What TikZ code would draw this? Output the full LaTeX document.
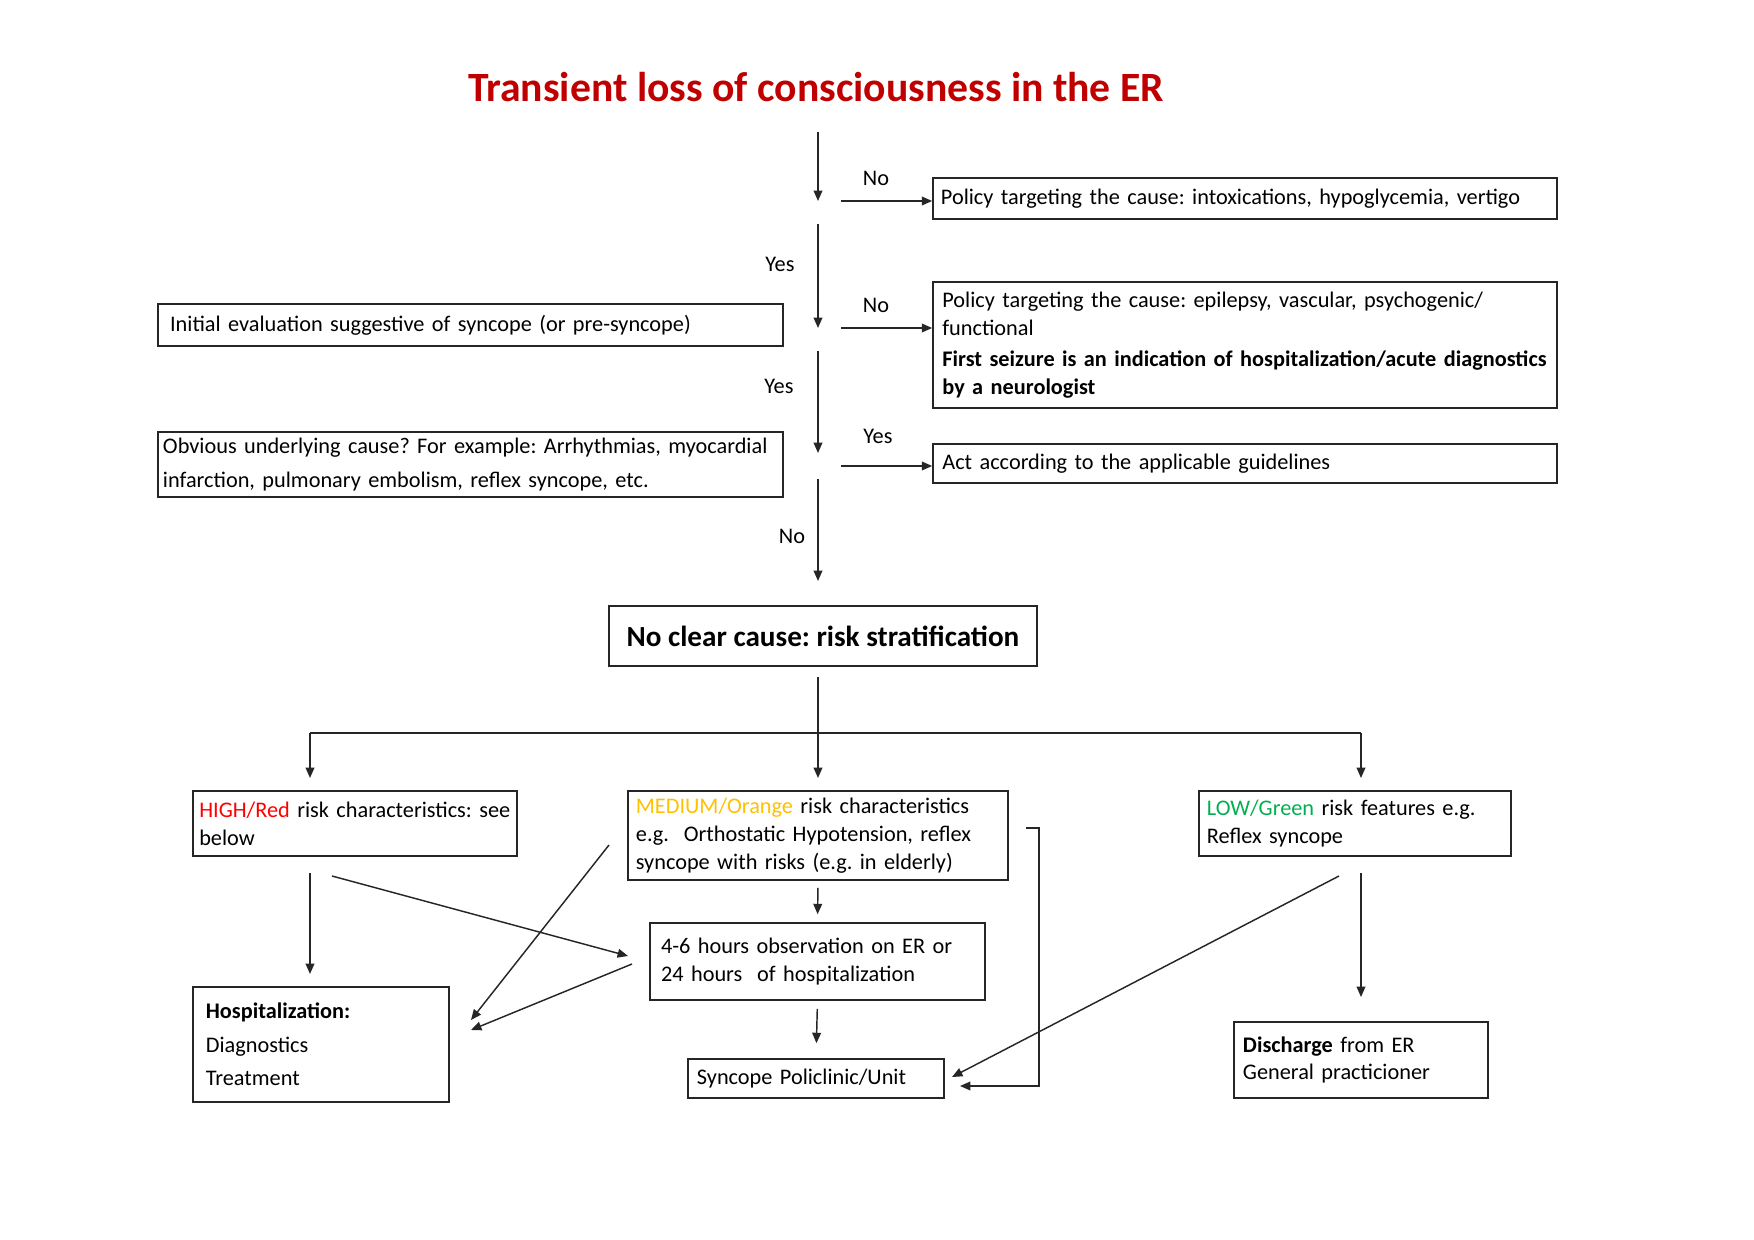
\documentclass[tikz,border=0pt]{standalone}
\usepackage{fontspec}
\setmainfont{Carlito}
\usetikzlibrary{arrows.meta}
\frenchspacing

\definecolor{titlered}{HTML}{C00000}
\definecolor{highred}{HTML}{FF0000}
\definecolor{medorange}{HTML}{FFC000}
\definecolor{lowgreen}{HTML}{00B050}

\tikzset{
  box/.style={draw=black!85, line width=0.8pt, align=left, inner ysep=0pt, font=\fontsize{10.7}{13.4}\selectfont},
  lbl/.style={font=\fontsize{10.7}{13.4}\selectfont},
  ln/.style={draw=black!85, line width=0.7pt},
  arr/.style={ln, -{Triangle[length=5pt,width=4.2pt]}}
}

\begin{document}
\begin{tikzpicture}[x=0.48pt, y=-0.48pt]
\useasboundingbox (0,0) rectangle (1754,1240);

% title
\node[font=\fontsize{20}{24}\selectfont\bfseries, text=titlered] (ttl) at (816,87) {Transient loss of consciousness in the ER};

% left column
\node[box, text width=288.4pt, inner xsep=5.8pt, minimum height=20.2pt] (init) at (470.5,325) {Initial evaluation suggestive of syncope (or pre-syncope)};
\node[box, text width=295.2pt, inner xsep=2.4pt, minimum height=31.2pt] (obv) at (470.5,464.5) {\mbox{Obvious underlying cause? For example: Arrhythmias, myocardial}\\[2.9pt] infarction, pulmonary embolism, reflex syncope, etc.};

% right column
\node[box, text width=291.9pt, inner xsep=3.8pt, minimum height=19.7pt] (intox) at (1245,198.5) {Policy targeting the cause: intoxications, hypoglycemia, vertigo};
\node[box, text width=290.5pt, inner xsep=4.5pt, minimum height=60.5pt] (epil) at (1245,345) {Policy targeting the cause: epilepsy, vascular, psychogenic/\\ functional\\[1.5pt] \mbox{\textbf{First seizure is an indication of hospitalization/acute diagnostics}}\\ \textbf{by a neurologist}};
\node[box, text width=290.5pt, inner xsep=4.5pt, minimum height=18.7pt] (guide) at (1245,463.5) {Act according to the applicable guidelines};

% risk stratification
\node[box, align=center, minimum width=205.4pt, minimum height=28.8pt, font=\fontsize{14}{17}\selectfont\bfseries] (risk) at (823,636) {No clear cause: risk stratification};
\node[box, text width=149.5pt, inner xsep=3pt, minimum height=31.2pt] (high) at (355,823.5) {\mbox{\textcolor{highred}{HIGH/Red} risk characteristics: see}\\ below};
\node[box, text width=174.8pt, inner xsep=3.8pt, minimum height=42.7pt] (med) at (818,835.5) {\textcolor{medorange}{MEDIUM/Orange} risk characteristics\\ e.g.\ \ Orthostatic Hypotension, reflex\\ syncope with risks (e.g. in elderly)};
\node[box, text width=142.2pt, inner xsep=3.8pt, minimum height=31.2pt] (low) at (1355,823.5) {\textcolor{lowgreen}{LOW/Green} risk features e.g.\\ Reflex syncope};
\node[box, text width=150.2pt, inner xsep=5.3pt, minimum height=37pt] (obs) at (817.5,961.5) {4-6 hours observation on ER or\\ 24 hours\ \ of hospitalization};
\node[box, text width=110.5pt, inner xsep=6.2pt, minimum height=55.2pt] (hosp) at (321,1044.5) {\textbf{Hospitalization:}\\[2.6pt] Diagnostics\\[2.6pt] Treatment};
\node[box, text width=114.3pt, inner xsep=4.3pt, minimum height=18.7pt] (sync) at (816,1078.5) {Syncope Policlinic/Unit};
\node[box, text width=113.3pt, inner xsep=4.3pt, minimum height=36.5pt] (dis) at (1361,1060) {\textbf{Discharge} from ER\\ General practicioner};

% yes/no labels
\node[lbl] (no1) at (876,178) {No};
\node[lbl] (yes1) at (780,264) {Yes};
\node[lbl] (no2) at (876,305) {No};
\node[lbl] (yes2) at (779,386) {Yes};
\node[lbl] (yes3) at (878,436) {Yes};
\node[lbl] (no3) at (792,536) {No};

% main chain
\coordinate (s0) at (818,132); \coordinate (e0) at (818,201);
\coordinate (s1) at (818,224); \coordinate (e1) at (818,328);
\coordinate (s2) at (818,351); \coordinate (e2) at (818,453);
\coordinate (s3) at (818,479); \coordinate (e3) at (818,581);
\draw[arr] (s0) -- (e0);
\draw[arr] (s1) -- (e1);
\draw[arr] (s2) -- (e2);
\draw[arr] (s3) -- (e3);
\coordinate (h0) at (841,201);
\coordinate (h1) at (841,328);
\coordinate (h2) at (841,466);
\draw[arr] (h0) -- (h0 -| intox.west);
\draw[arr] (h1) -- (h1 -| epil.west);
\draw[arr] (h2) -- (h2 -| guide.west);

% split into three risk groups
\coordinate (r0) at (818,677);
\coordinate (bl) at (310,733);
\coordinate (br) at (1361,733);
\draw[arr] (r0) -- (818,778);
\draw[ln] (bl) -- (br);
\draw[arr] (bl) -- ++(0,45);
\draw[arr] (br) -- ++(0,45);

% high
\coordinate (hh0) at (310,873);
\coordinate (hh1) at (332,876);
\draw[arr] (hh0) -- (310,974);
\draw[arr] (hh1) -- (628,956);

% medium
\coordinate (mm0) at (609,845);
\coordinate (mm1) at (1026,828);
\draw[arr] (mm0) -- (471,1020);
\draw[arr, shorten <=3.4pt, shorten >=3.8pt] (med.south) -- (obs.north);
\draw[arr] (mm1) -- (1039,828) -- (1039,1086) -- (960,1086);

% observation
\coordinate (oo0) at (632,964);
\draw[arr] (oo0) -- (471,1030);
\draw[arr, shorten <=3.8pt, shorten >=7.2pt] (obs.south) -- (sync.north);

% low
\coordinate (ll0) at (1339,876);
\coordinate (ll1) at (1361,873);
\draw[arr] (ll0) -- (952,1077);
\draw[arr] (ll1) -- (1361,997);
\end{tikzpicture}
\end{document}
